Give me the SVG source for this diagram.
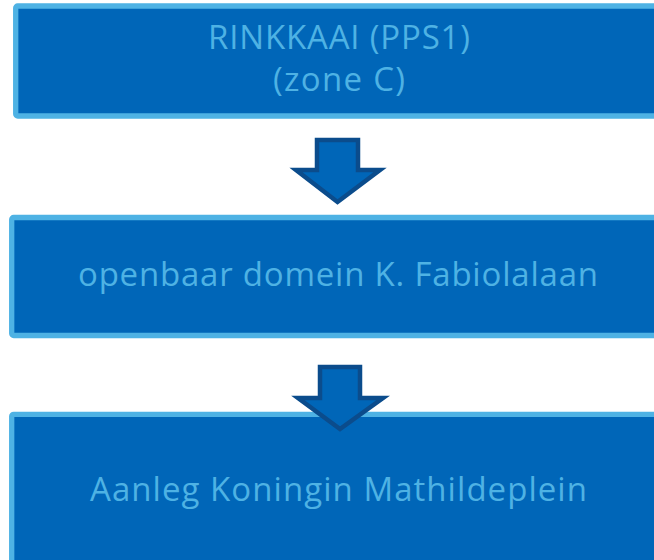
<svg xmlns="http://www.w3.org/2000/svg" width="654" height="560" viewBox="0 0 654 560">
<style>
.box{fill:#0066B8;stroke:#4EB2E4;stroke-width:5.3}
.lbl{fill:#4EB2E4;font-family:"Open Sans","Noto Sans",sans-serif;font-size:33px;text-anchor:middle}
.arr{fill:#0066B8;stroke:#0B4C8C;stroke-width:4.5;stroke-linejoin:miter}
</style>
<rect width="654" height="560" fill="#ffffff"/>
<g id="node1">
<rect class="box" x="15.7" y="6" width="648" height="110" rx="2"/>
<text class="lbl" x="339" y="49" textLength="262">RINKKAAI (PPS1)</text>
<text class="lbl" x="339" y="91" textLength="132">(zone C)</text>
</g>
<g id="node2">
<rect class="box" x="11.7" y="217.5" width="652" height="118" rx="2"/>
<text class="lbl" x="338" y="286" textLength="520">openbaar domein K. Fabiolalaan</text>
</g>
<g id="node3">
<rect class="box" x="11.7" y="414.3" width="652" height="200" rx="2"/>
<text class="lbl" x="338.5" y="501" textLength="497">Aanleg Koningin Mathildeplein</text>
</g>
<g id="connectors">
<path class="arr" d="M317,140 H358 V170 H380 L337.5,202 L296,170 H317 Z"/>
<path class="arr" d="M320,367 H360 V398 H383 L340,429 L298,398 H320 Z"/>
</g>
</svg>
